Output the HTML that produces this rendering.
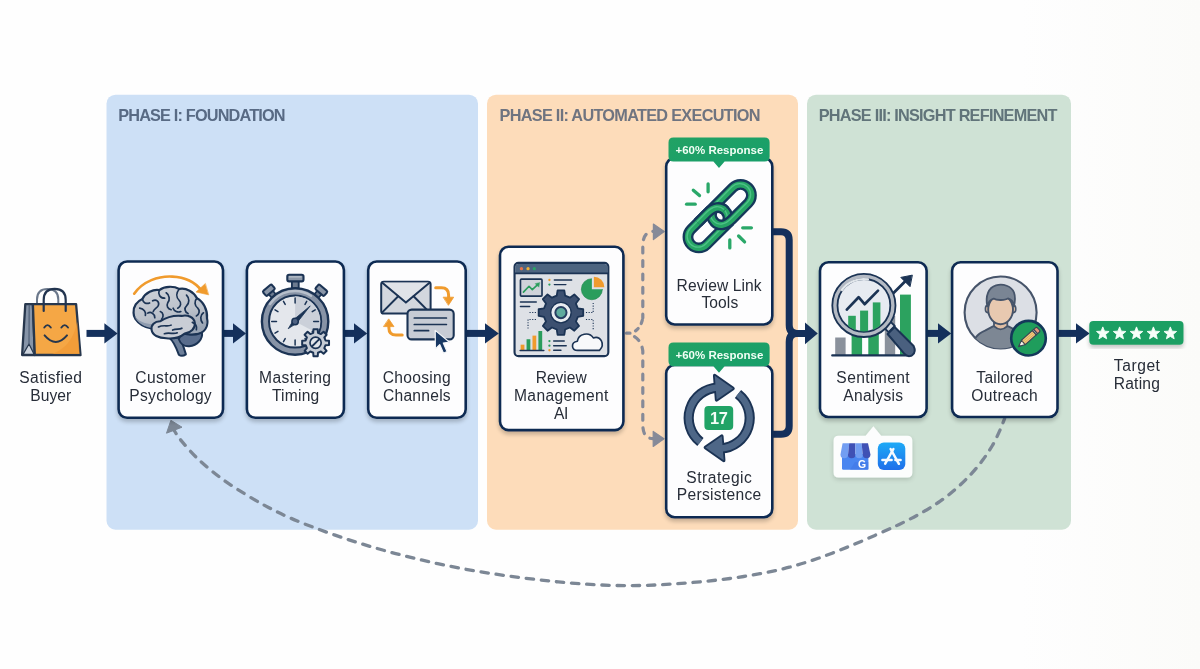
<!DOCTYPE html>
<html>
<head>
<meta charset="utf-8">
<title>Review Strategy Flow</title>
<style>
html,body{margin:0;padding:0;background:#fefefe;}
body{width:1200px;height:669px;overflow:hidden;font-family:"Liberation Sans",sans-serif;}
svg{display:block;position:absolute;left:0;top:0;}
text{font-family:"Liberation Sans",sans-serif;opacity:0.996;}
.lbl{font-size:15.6px;fill:#272d38;text-anchor:middle;}
.ttl{font-size:16.3px;font-weight:bold;}
.bdg{font-size:11.5px;font-weight:bold;fill:#f2fff6;text-anchor:middle;}
</style>
</head>
<body>
<svg width="1200" height="669" viewBox="0 0 1200 669">
<defs>
  <filter id="sh" x="-10%" y="-10%" width="120%" height="125%">
    <feGaussianBlur in="SourceAlpha" stdDeviation="2.2"/>
    <feOffset dx="0" dy="2.5"/>
    <feComponentTransfer><feFuncA type="linear" slope="0.22"/></feComponentTransfer>
    <feMerge><feMergeNode/><feMergeNode in="SourceGraphic"/></feMerge>
  </filter>
  <linearGradient id="bgr" x1="0" x2="1" y1="0" y2="0">
    <stop offset="0" stop-color="#fefefe"/><stop offset="0.85" stop-color="#fefefe"/><stop offset="1" stop-color="#fbfbf9"/>
  </linearGradient>
  <linearGradient id="gbadge" x1="0" x2="1" y1="0" y2="1">
    <stop offset="0" stop-color="#22a264"/><stop offset="1" stop-color="#169e6b"/>
  </linearGradient>
  <linearGradient id="gapp" x1="0" x2="0" y1="0" y2="1"><stop offset="0" stop-color="#1eaaf6"/><stop offset="1" stop-color="#1f6fea"/></linearGradient>
  <filter id="sh2" x="-15%" y="-25%" width="130%" height="160%">
    <feGaussianBlur in="SourceAlpha" stdDeviation="2.4"/><feOffset dx="0" dy="2"/>
    <feComponentTransfer><feFuncA type="linear" slope="0.16"/></feComponentTransfer>
    <feMerge><feMergeNode/><feMergeNode in="SourceGraphic"/></feMerge>
  </filter>
</defs>

<!-- background -->
<rect x="0" y="0" width="1200" height="669" fill="url(#bgr)"/>

<!-- ===== PANELS ===== -->
<rect x="106.5" y="94.7" width="371.5" height="435" rx="9" fill="#cde0f6"/>
<rect x="487" y="94.7" width="311" height="435" rx="9" fill="#fddcba"/>
<rect x="807" y="94.7" width="264" height="435" rx="9" fill="#cfe2d5"/>

<text class="ttl" x="118.2" y="121.3" fill="#586a84" textLength="167.4" lengthAdjust="spacing">PHASE I: FOUNDATION</text>
<text class="ttl" x="499.5" y="121.3" fill="#6f7480" textLength="261" lengthAdjust="spacing">PHASE II: AUTOMATED EXECUTION</text>
<text class="ttl" x="818.7" y="121.3" fill="#61747a" textLength="238.8" lengthAdjust="spacing">PHASE III: INSIGHT REFINEMENT</text>

<!-- ===== LOOP (dashed feedback) ===== -->
<g id="loop"><path d="M1004.6 418.7 C1003.7 420.9 1001.4 427.1 999.3 431.6 C997.3 436.1 995.1 440.8 992.4 445.5 C989.6 450.2 986.5 455.0 982.9 459.8 C979.4 464.6 975.4 469.4 971.0 474.2 C966.6 478.9 961.8 483.7 956.6 488.2 C951.4 492.8 945.9 497.2 939.9 501.4 C933.9 505.6 927.5 509.5 920.7 513.3 C913.9 517.2 906.8 520.7 899.2 524.4 C891.6 528.1 883.5 531.6 874.9 535.4 C866.3 539.2 856.8 543.3 847.4 547.1 C837.9 550.9 827.9 555.0 818.2 558.3 C808.6 561.7 799.1 564.6 789.4 567.2 C779.7 569.8 769.9 571.8 760.0 573.7 C750.1 575.6 740.0 577.1 730.0 578.5 C720.0 579.8 710.0 580.9 700.0 581.8 C690.0 582.8 680.0 583.6 670.0 584.2 C660.0 584.8 650.1 585.3 640.0 585.5 C629.9 585.7 619.7 585.6 609.5 585.3 C599.3 585.0 589.0 584.4 579.0 583.7 C569.0 583.0 559.3 582.1 549.5 581.0 C539.7 580.0 529.9 578.8 520.0 577.5 C510.1 576.2 499.9 574.9 490.0 573.3 C480.1 571.8 470.1 570.1 460.3 568.2 C450.5 566.4 440.9 564.4 431.3 562.2 C421.6 560.1 412.1 557.8 402.5 555.3 C392.9 552.9 383.4 550.3 373.8 547.5 C364.2 544.7 354.6 541.7 345.0 538.5 C335.4 535.4 325.3 531.8 316.3 528.4 C307.2 525.0 298.5 521.6 290.6 518.1 C282.6 514.7 276.1 511.5 268.5 507.5 C260.9 503.5 253.1 499.0 245.0 494.0 C236.9 489.0 227.9 483.4 220.0 477.4 C212.1 471.5 203.8 464.4 197.3 458.3 C190.9 452.2 185.2 445.4 181.2 440.6 C177.2 435.8 174.9 431.4 173.6 429.5" fill="none" stroke="#7c8795" stroke-width="3.3" stroke-linecap="round" stroke-dasharray="7.4 7.8" stroke-dashoffset="3"/>
<path d="M170.9 420.3 L166.5 433.2 L182 427.2Z" fill="#7c8795" stroke="#7c8795" stroke-width="1" stroke-linejoin="round"/></g>

<!-- ===== ARROWS ===== -->
<g id="arrows" fill="#14305c" stroke="none">
  <rect x="86.5" y="329.9" width="19" height="7"/><path d="M104.4 323.2 L117.6 333.4 L104.4 343.6Z"/>
  <rect x="223" y="329.9" width="11" height="7"/><path d="M233 323.2 L246 333.4 L233 343.6Z"/>
  <rect x="344.5" y="329.9" width="10.5" height="7"/><path d="M354 323.2 L367.2 333.4 L354 343.6Z"/>
  <rect x="466" y="329.9" width="20" height="7"/><path d="M485 323.2 L498.8 333.4 L485 343.6Z"/>
  <rect x="926.6" y="329.9" width="12" height="7"/><path d="M938 323.2 L951.2 333.4 L938 343.6Z"/>
  <rect x="1057.6" y="329.9" width="19" height="7"/><path d="M1076 323.2 L1089.6 333.4 L1076 343.6Z"/>
</g>
<!-- bracket merge -->
<g id="bracket" fill="none" stroke="#14305c" stroke-width="7" stroke-linejoin="round">
  <path d="M772 231.7 H781 Q789.2 231.7 789.2 240 V325 Q789.2 333.4 797 333.4 H806"/>
  <path d="M772 434.3 H781 Q789.2 434.3 789.2 426 V342 Q789.2 333.4 797 333.4"/>
</g>
<path d="M805 322.6 L817.8 333.4 L805 344.2Z" fill="#14305c"/>

<!-- ===== DASHED SPLIT ===== -->
<g id="split" fill="none" stroke="#868a98" stroke-width="3.2" stroke-linecap="round" stroke-dasharray="5.8 7.6">
  <path d="M642.8 318 V246 Q642.8 232 653 231.4" stroke-dashoffset="2"/>
  <path d="M626.5 333.2 H630 Q640 331 642.6 319" stroke-dasharray="3.5 6"/>
  <path d="M634.5 336.6 Q641.5 341 642.8 351 V424.5 Q642.8 438.6 653 438.6" stroke-dashoffset="0"/>
</g>
<path d="M653.4 224 L664.2 231.4 L653.4 239.6Z" fill="#868a98" stroke="#868a98" stroke-width="1.2" stroke-linejoin="round"/>
<path d="M653.2 431.4 L664 438.7 L653.2 446.4Z" fill="#868a98" stroke="#868a98" stroke-width="1.2" stroke-linejoin="round"/>

<!-- ===== CARDS ===== -->
<g id="cards" fill="#fdfdfe" stroke="#112c52" stroke-width="2.6" filter="url(#sh)">
  <rect x="118.6" y="261.5" width="104.4" height="156.3" rx="8.5"/>
  <rect x="246.9" y="261.5" width="97" height="156.3" rx="8.5"/>
  <rect x="368.2" y="261.5" width="97.5" height="156.3" rx="8.5"/>
  <rect x="500" y="246.8" width="123.4" height="183.3" rx="8.5"/>
  <rect x="666.2" y="158" width="106.1" height="166.5" rx="8.5"/>
  <rect x="666.2" y="365" width="106.1" height="152.2" rx="8.5"/>
  <rect x="820" y="262.3" width="106.6" height="154.7" rx="8.5"/>
  <rect x="952.1" y="262.3" width="105.4" height="154.7" rx="8.5"/>
</g>

<!-- ===== LABELS ===== -->
<g class="lbl">
  <text x="50.7" y="383.2" textLength="62.7" lengthAdjust="spacing">Satisfied</text>
  <text x="50.8" y="400.7" textLength="40.9" lengthAdjust="spacing">Buyer</text>
  <text x="170.5" y="383.2" textLength="70.3" lengthAdjust="spacing">Customer</text>
  <text x="170.5" y="400.7" textLength="82.3" lengthAdjust="spacing">Psychology</text>
  <text x="295.0" y="383.2" textLength="72.1" lengthAdjust="spacing">Mastering</text>
  <text x="295.6" y="400.7" textLength="47.3" lengthAdjust="spacing">Timing</text>
  <text x="416.7" y="383.2" textLength="67.9" lengthAdjust="spacing">Choosing</text>
  <text x="416.8" y="400.7" textLength="67.7" lengthAdjust="spacing">Channels</text>
  <text x="561.2" y="382.9" textLength="51.1" lengthAdjust="spacing">Review</text>
  <text x="561.2" y="400.6" textLength="94.5" lengthAdjust="spacing">Management</text>
  <text x="561.2" y="418.6" textLength="14.3" lengthAdjust="spacing">AI</text>
  <text x="719.1" y="290.5" textLength="85.1" lengthAdjust="spacing">Review Link</text>
  <text x="719.8" y="308.2" textLength="36.8" lengthAdjust="spacing">Tools</text>
  <text x="719.1" y="482.6" textLength="65.5" lengthAdjust="spacing">Strategic</text>
  <text x="719.0" y="500.4" textLength="84.3" lengthAdjust="spacing">Persistence</text>
  <text x="873.0" y="383.1" textLength="73.3" lengthAdjust="spacing">Sentiment</text>
  <text x="873.2" y="400.7" textLength="59.7" lengthAdjust="spacing">Analysis</text>
  <text x="1004.5" y="383.1" textLength="56.3" lengthAdjust="spacing">Tailored</text>
  <text x="1004.5" y="400.7" textLength="66.3" lengthAdjust="spacing">Outreach</text>
  <text x="1136.9" y="370.8" textLength="46.1" lengthAdjust="spacing">Target</text>
  <text x="1136.8" y="388.8" textLength="46.2" lengthAdjust="spacing">Rating</text>
</g>

<!-- ===== BADGES ===== -->
<g id="badges">
  <path d="M673.5 137.4 H764.6 Q769.6 137.4 769.6 142.4 V156.4 Q769.6 161.4 764.6 161.4 H724.6 L719 167.9 L713.4 161.4 H673.5 Q668.5 161.4 668.5 156.4 V142.4 Q668.5 137.4 673.5 137.4Z" fill="url(#gbadge)"/>
  <text class="bdg" x="719.4" y="153.8">+60% Response</text>
  <path d="M673.5 342.6 H764.6 Q769.6 342.6 769.6 347.6 V361.2 Q769.6 366.2 764.6 366.2 H724.6 L719 372.7 L713.4 366.2 H673.5 Q668.5 366.2 668.5 361.2 V347.6 Q668.5 342.6 673.5 342.6Z" fill="url(#gbadge)"/>
  <text class="bdg" x="719.4" y="358.8">+60% Response</text>
</g>

<!-- ===== STARS ===== -->
<g id="stars">
  <rect x="1089.3" y="320.9" width="94.2" height="23.8" rx="4" fill="#1f9f63" filter="url(#sh)"/>
  <g fill="#f6fff9" stroke="#f6fff9" stroke-width="0.9" stroke-linejoin="round"><path d="M1102.80 326.90 L1104.50 331.15 L1109.08 331.46 L1105.56 334.40 L1106.68 338.84 L1102.80 336.40 L1098.92 338.84 L1100.04 334.40 L1096.52 331.46 L1101.10 331.15Z"/><path d="M1119.60 326.90 L1121.30 331.15 L1125.88 331.46 L1122.36 334.40 L1123.48 338.84 L1119.60 336.40 L1115.72 338.84 L1116.84 334.40 L1113.32 331.46 L1117.90 331.15Z"/><path d="M1136.50 326.90 L1138.20 331.15 L1142.78 331.46 L1139.26 334.40 L1140.38 338.84 L1136.50 336.40 L1132.62 338.84 L1133.74 334.40 L1130.22 331.46 L1134.80 331.15Z"/><path d="M1153.40 326.90 L1155.10 331.15 L1159.68 331.46 L1156.16 334.40 L1157.28 338.84 L1153.40 336.40 L1149.52 338.84 L1150.64 334.40 L1147.12 331.46 L1151.70 331.15Z"/><path d="M1170.30 326.90 L1172.00 331.15 L1176.58 331.46 L1173.06 334.40 L1174.18 338.84 L1170.30 336.40 L1166.42 338.84 L1167.54 334.40 L1164.02 331.46 L1168.60 331.15Z"/></g>
</g>

<!-- ===== POPOVER ===== -->
<g id="popover"><g filter="url(#sh2)"><path d="M838.6 435.7 H865.6 L873.4 426.3 L881.2 435.7 H907.3 Q912.3 435.7 912.3 440.7 V472.5 Q912.3 477.5 907.3 477.5 H838.6 Q833.6 477.5 833.6 472.5 V440.7 Q833.6 435.7 838.6 435.7Z" fill="#fcfdfd"/></g>
<!-- gmb -->
<g>
  <path d="M842 454 H868.4 V468.4 Q868.4 469.8 867 469.8 H843.4 Q842 469.8 842 468.4Z" fill="#4a86f0"/>
  <path d="M855 462 H868.4 V469.8 H850Z" fill="#3f77e6" opacity="0.55"/>
  <path d="M842.6 443.2 H849.2 L848 455 Q847.6 458.2 844.2 458.2 Q840.2 458 840.5 454.2Z" fill="#729ef2"/>
  <path d="M849.2 443.2 H855.4 V455 Q855.2 458.2 851.6 458.2 Q847.8 458 848 455Z" fill="#3f51b5"/>
  <path d="M855.4 443.2 H861.6 L862.8 455 Q862.8 458.2 859.1 458.2 Q855.4 458 855.4 455Z" fill="#729ef2"/>
  <path d="M861.6 443.2 H868 L870.4 454.2 Q870.6 458 866.6 458.2 Q863.2 458.2 862.8 455Z" fill="#3f51b5"/>
  <text x="862" y="467.8" font-size="10.4" font-weight="bold" fill="#ffffff" text-anchor="middle">G</text>
</g>
<!-- appstore -->
<g>
  <rect x="877.8" y="442.6" width="27.5" height="27.4" rx="6" fill="url(#gapp)"/>
  <g fill="none" stroke="#f7fbff" stroke-width="2.5" stroke-linecap="round">
    <path d="M885.2 463.6 L893.4 449"/><path d="M890.6 449 L898.9 463.8"/><path d="M882.4 460.1 H891.6 M895.4 460.1 H900.6"/>
  </g>
</g></g>

<!-- ===== ICONS ===== -->
<g id="icons">
<!-- bag -->
<g id="ic-bag" stroke-linejoin="round" stroke-linecap="round">
  <path d="M37 305 V299.5 Q37 289 47.6 289 Q58.3 289 58.3 299.5 V305" fill="none" stroke="#6b788b" stroke-width="2"/>
  <path d="M25.3 304.2 H32.9 L34.8 355 H22.1Z" fill="#8694a8" stroke="#27374d" stroke-width="2.3"/>
  <path d="M23 354.4 L29 344 L34.2 354.4Z" fill="#cdd4de" stroke="#27374d" stroke-width="1.2"/>
  <path d="M29.2 305 L29 344" fill="none" stroke="#4f5f76" stroke-width="1.2"/>
  <path d="M32.9 304.2 H76.1 L80.5 355 H34.8Z" fill="#f5a745" stroke="#27374d" stroke-width="2.3"/>
  <path d="M77.3 322 L79.6 354 H52 Q72 347 77.3 322Z" fill="#f09a35" stroke="none" opacity="0.75"/>
  <path d="M43.7 311 V300 Q43.7 288.8 54.7 288.8 Q65.7 288.8 65.7 300 V311" fill="none" stroke="#22344f" stroke-width="2.2"/>
  <path d="M44.3 327.6 Q47.5 322.6 50.8 327.6" fill="none" stroke="#27374d" stroke-width="1.9"/>
  <path d="M61.4 327.6 Q64.7 322.6 68 327.6" fill="none" stroke="#27374d" stroke-width="1.9"/>
  <path d="M44.6 335.4 Q55.8 348.6 67 335.4" fill="none" stroke="#27374d" stroke-width="2"/>
</g>
<!-- brain : coordinates in 6.495x zoom space, origin (120,262) -->
<g id="ic-brain" transform="translate(120,262) scale(0.15396)" stroke-linejoin="round" stroke-linecap="round">
  <defs><linearGradient id="gbrain" x1="0.3" y1="0" x2="0.6" y2="1"><stop offset="0" stop-color="#cdd1d8"/><stop offset="0.55" stop-color="#bcc2cb"/><stop offset="1" stop-color="#98a3b3"/></linearGradient></defs>
  <path d="M318 490 C345 510 362 545 382 602 Q402 618 428 600 C416 558 402 520 388 492Z" fill="#6d7f99" stroke="#1b3354" stroke-width="13"/>
  <path d="M395 468 C430 446 500 440 532 458 C540 500 502 542 450 547 C418 550 392 530 382 502Z" fill="#586c8c" stroke="#1b3354" stroke-width="13"/>
  <path d="M88 330 C85 290 110 255 145 240 C165 200 215 175 255 182 C290 155 350 155 385 175 C430 165 480 195 500 235 C540 255 570 310 565 365 C575 410 555 450 520 462 C480 478 430 472 400 458 C330 442 250 442 205 432 C160 425 120 400 100 370 C90 355 88 345 88 330Z" fill="url(#gbrain)" stroke="#1b3354" stroke-width="14.5"/>
  <path d="M94 352 C120 385 165 402 210 404 L207 428 C160 422 122 398 103 368Z" fill="#8e9bae" stroke="none"/>
  <path d="M560 372 C566 410 552 442 520 455 C496 465 470 462 452 455 C500 450 540 420 560 372Z" fill="#9aa5b5" stroke="none"/>
  <path d="M205 440 C200 410 225 385 260 385 C300 360 350 345 400 350 C440 340 482 360 486 395 C490 430 460 460 420 465 C390 490 340 500 300 495 C250 495 210 475 205 440Z" fill="#c9cdd5" stroke="#1b3354" stroke-width="13.5"/>
  <g fill="none" stroke="#1b3354" stroke-width="11">
    <path d="M145 240 C150 265 170 275 192 266"/>
    <path d="M255 182 C245 210 260 235 290 235"/>
    <path d="M212 252 C235 240 256 255 250 280 C245 300 222 300 216 322"/>
    <path d="M300 200 C322 215 326 245 310 265 C300 285 310 305 332 310"/>
    <path d="M385 175 C364 200 364 230 385 250 C400 265 396 290 375 300"/>
    <path d="M432 215 C452 235 452 265 432 285 C416 300 420 325 442 335"/>
    <path d="M500 235 C480 255 485 285 505 300 C520 315 516 340 496 350"/>
    <path d="M128 300 C155 305 170 325 165 347"/>
    <path d="M180 332 C200 320 226 335 226 362"/>
    <path d="M262 322 C282 330 286 356 270 372"/>
    <path d="M542 330 C520 345 520 375 536 396"/>
    <path d="M470 392 C490 400 500 420 496 440"/>
    <path d="M250 422 C280 405 310 422 332 410"/>
    <path d="M342 442 C366 430 386 442 402 430"/>
    <path d="M288 466 C320 455 350 472 372 460"/>
    <path d="M345 300 C352 320 375 330 395 322"/>
  </g>
  <path d="M92 206 C150 124 250 90 340 95 C420 98 490 134 530 186" fill="none" stroke="#f09b2d" stroke-width="17"/>
  <path d="M574 213 L494 195 L553 141Z" fill="#f09b2d" stroke="#f09b2d" stroke-width="4"/>
</g>
<!-- stopwatch -->
<g id="ic-watch" stroke-linejoin="round" stroke-linecap="round">
  <g transform="rotate(-40 295.1 321.5)"><rect x="292.4" y="283.5" width="5.4" height="6" fill="#6d7b90" stroke="#1b3354" stroke-width="1.7"/><rect x="289.3" y="277.6" width="11.6" height="6.2" rx="1.5" fill="#8a96a8" stroke="#1b3354" stroke-width="2"/></g>
  <g transform="rotate(40 295.1 321.5)"><rect x="292.4" y="283.5" width="5.4" height="6" fill="#6d7b90" stroke="#1b3354" stroke-width="1.7"/><rect x="289.3" y="277.6" width="11.6" height="6.2" rx="1.5" fill="#8a96a8" stroke="#1b3354" stroke-width="2"/></g>
  <rect x="291.9" y="281" width="6.8" height="7.5" fill="#6d7b90" stroke="#1b3354" stroke-width="1.9"/>
  <rect x="287.3" y="274.8" width="16.2" height="6.6" rx="1.8" fill="#8c98a9" stroke="#1b3354" stroke-width="2.1"/>
  <path d="M289.5 276.9 H301" stroke="#b9c1cc" stroke-width="1.4" fill="none"/>
  <circle cx="295.1" cy="321.5" r="33.2" fill="#8793a6" stroke="#1b3354" stroke-width="2.4"/>
  <path d="M270 304 A30.2 30.2 0 0 1 311 295.8" fill="none" stroke="#b7bfcb" stroke-width="2.4"/>
  <circle cx="295.1" cy="321.5" r="26.1" fill="#e4e7ec" stroke="#1b3354" stroke-width="2"/>
  <path d="M295.10 321.50 L295.10 296.30 A25.2 25.2 0 0 1 317.35 333.33 Z" fill="#cbd0d9" stroke="none"/>
  <g fill="none" stroke="#1b3354" stroke-width="1.5"><path d="M295.10 302.90 L295.10 298.10"/><path d="M305.00 304.35 L306.70 301.41"/><path d="M312.25 311.60 L315.19 309.90"/><path d="M313.70 321.50 L318.50 321.50"/><path d="M312.25 331.40 L315.19 333.10"/><path d="M305.00 338.65 L306.70 341.59"/><path d="M295.10 340.10 L295.10 344.90"/><path d="M285.20 338.65 L283.50 341.59"/><path d="M277.95 331.40 L275.01 333.10"/><path d="M276.50 321.50 L271.70 321.50"/><path d="M277.95 311.60 L275.01 309.90"/><path d="M285.20 304.35 L283.50 301.41"/></g>
  <path d="M288.4 328.4 L293.6 319.8 L310.2 305.9 L296.8 323 Z" fill="#1b3354" stroke="#1b3354" stroke-width="0.8"/>
  <circle cx="295.1" cy="321.5" r="3.2" fill="#4f6282" stroke="#1b3354" stroke-width="1.5"/>
  <path d="M313.22 332.88 L313.47 329.37 L317.73 329.37 L317.98 332.88 L320.93 334.10 L323.59 331.80 L326.60 334.81 L324.30 337.47 L325.52 340.42 L329.03 340.67 L329.03 344.93 L325.52 345.18 L324.30 348.13 L326.60 350.79 L323.59 353.80 L320.93 351.50 L317.98 352.72 L317.73 356.23 L313.47 356.23 L313.22 352.72 L310.27 351.50 L307.61 353.80 L304.60 350.79 L306.90 348.13 L305.68 345.18 L302.17 344.93 L302.17 340.67 L305.68 340.42 L306.90 337.47 L304.60 334.81 L307.61 331.80 L310.27 334.10Z" fill="#c6ccd5" stroke="#1b3354" stroke-width="2"/>
  <circle cx="315.6" cy="342.8" r="5.6" fill="#e1e4e9" stroke="#1b3354" stroke-width="1.7"/>
  <path d="M312.4 346 L318.8 339.6" stroke="#1b3354" stroke-width="1.8" fill="none"/>
</g>
<!-- channels -->
<g id="ic-chan" stroke-linejoin="round" stroke-linecap="round">
  <rect x="381.2" y="281.7" width="49.4" height="31.8" rx="2.6" fill="#d3d7de" stroke="#1b3354" stroke-width="2"/>
  <path d="M382 282.6 L405.9 302.6 L429.8 282.6Z" fill="#e0e3e8" stroke="none"/>
  <path d="M382 282.6 L405.9 302.6 L429.8 282.6" fill="none" stroke="#1b3354" stroke-width="2"/>
  <path d="M382 312.6 L398.2 296.2 M429.8 312.6 L413.6 296.2" fill="none" stroke="#1b3354" stroke-width="2"/>
  <rect x="407.5" y="309.6" width="46.2" height="29.8" rx="4.2" fill="#c7ccd5" stroke="#1b3354" stroke-width="2.1"/>
  <path d="M414.3 318 H446.4 M414.3 324.5 H446.4 M414.3 330.7 H428.6" fill="none" stroke="#1b3354" stroke-width="1.7"/>
  <path d="M435.2 330.4 L435.4 348.9 L439.7 344.6 L443.5 353.2 L447 351.5 L443.3 343 L449.6 342.2Z" fill="#183863" stroke="#f4f6f9" stroke-width="1.2"/>
  <path d="M435.7 287.8 H441.5 Q448.6 287.8 448.6 295 V298" fill="none" stroke="#f09b2d" stroke-width="3"/>
  <path d="M443.5 297.2 H453.7 L448.6 305Z" fill="#f09b2d" stroke="#f09b2d" stroke-width="0.8"/>
  <path d="M402.2 335 H396 Q388.9 335 388.9 328 V326" fill="none" stroke="#f09b2d" stroke-width="3"/>
  <path d="M383.8 326.6 H394 L388.9 319.2Z" fill="#f09b2d" stroke="#f09b2d" stroke-width="0.8"/>
</g>
<!-- dashboard : zoom space 6.078x origin (505,255) -->
<g id="ic-dash" transform="translate(505,255) scale(0.16453)" stroke-linejoin="round" stroke-linecap="round">
  <rect x="58" y="48" width="570" height="567" rx="24" fill="#dee1e6" stroke="#1b3354" stroke-width="13"/>
  <path d="M64 112 V72 Q64 54 82 54 H604 Q622 54 622 72 V112Z" fill="#4d6480" stroke="none"/>
  <path d="M60 112 H626" stroke="#1b3354" stroke-width="10" fill="none"/>
  <circle cx="100" cy="83" r="10" fill="#e8744c"/><circle cx="140" cy="83" r="10" fill="#f2b236"/><circle cx="178" cy="83" r="10" fill="#2aa567"/>
  <rect x="94" y="147" width="131" height="103" rx="6" fill="#cfd3da" stroke="#1b3354" stroke-width="10"/>
  <path d="M112 226 L146 190 L166 210 L200 178" fill="none" stroke="#2a9d5c" stroke-width="10"/>
  <path d="M210 168 L184 174 L204 194Z" fill="#2a9d5c" stroke="#2a9d5c" stroke-width="3"/>
  <circle cx="270" cy="152" r="7" fill="#f09b2d"/><circle cx="270" cy="180" r="7" fill="#2a9d5c"/>
  <path d="M300 152 H405 M300 180 H370 M94 286 H190 M94 313 H150" stroke="#1b3354" stroke-width="9" fill="none"/>
  <circle cx="528" cy="208" r="64" fill="#2a9d5c" stroke="#238a50" stroke-width="4"/>
  <path d="M528 208 V136 A72 72 0 0 1 600 208Z" fill="#dee1e6" stroke="none"/>
  <path d="M540 196 V132 A64 64 0 0 1 604 196Z" fill="#f09b2d" stroke="none"/>
  <g fill="none" stroke="#1b3354" stroke-width="6.5" stroke-dasharray="7 9" stroke-linecap="butt">
    <path d="M188 350 H148"/><path d="M188 392 H140 V452"/>
    <path d="M492 350 H536 V292"/><path d="M492 392 H536 V452"/>
  </g>
  <path d="M314.45 247.13 L319.63 214.52 L360.37 214.52 L365.55 247.13 L394.67 259.19 L421.39 239.80 L450.20 268.61 L430.81 295.33 L442.87 324.45 L475.48 329.63 L475.48 370.37 L442.87 375.55 L430.81 404.67 L450.20 431.39 L421.39 460.20 L394.67 440.81 L365.55 452.87 L360.37 485.48 L319.63 485.48 L314.45 452.87 L285.33 440.81 L258.61 460.20 L229.80 431.39 L249.19 404.67 L237.13 375.55 L204.52 370.37 L204.52 329.63 L237.13 324.45 L249.19 295.33 L229.80 268.61 L258.61 239.80 L285.33 259.19Z" fill="#3c5070" stroke="#1b3354" stroke-width="11"/>
  <circle cx="340" cy="350" r="62" fill="#e9ecf0" stroke="#1b3354" stroke-width="8"/>
  <circle cx="340" cy="350" r="34" fill="#5faa9d" stroke="#273f62" stroke-width="12"/>
  <rect x="95" y="545" width="23" height="33" fill="#f09b2d"/><rect x="131" y="512" width="23" height="66" fill="#2a9d5c"/>
  <rect x="167" y="490" width="23" height="88" fill="#f09b2d"/><rect x="203" y="462" width="23" height="116" fill="#2a9d5c"/>
  <path d="M92 580 H236" stroke="#1b3354" stroke-width="9" fill="none"/>
  <circle cx="270" cy="523" r="7" fill="#2a9d5c"/><circle cx="270" cy="551" r="7" fill="#2a9d5c"/><circle cx="270" cy="579" r="7" fill="#f09b2d"/>
  <path d="M296 523 H360 M296 551 H372 M296 579 H340" stroke="#1b3354" stroke-width="9" fill="none"/>
  <path d="M442 580 C402 580 398 530 440 524 C446 478 512 464 537 504 C580 490 612 542 574 580Z" fill="#f8f9fb" stroke="#1b3354" stroke-width="10"/>
</g>
<!-- chain -->
<g id="ic-chain">
  <g fill="none" stroke="#2aa869" stroke-width="3.3" stroke-linecap="round">
    <path d="M708.1 183.9 V191.8"/><path d="M693.3 190.2 L699.5 195.6"/><path d="M686.6 204.2 H695.2"/>
    <path d="M742.7 227.8 H751.4"/><path d="M738.6 236 L744.6 241.9"/><path d="M729.8 239.9 V247.9"/>
  </g>
  <g transform="translate(719.7,216.2) rotate(-45)" fill="none" stroke-linecap="butt" stroke-linejoin="round">
    <path d="M4 10.9 H-29.5 A10.9 10.9 0 0 1 -29.5 -10.9 H-6.5 C2.5 -10.9 7.8 -7 7.8 -0.5 C7.8 4 5.5 7 2.2 9" stroke="#15385a" stroke-width="10.8"/><path d="M4 10.9 H-29.5 A10.9 10.9 0 0 1 -29.5 -10.9 H-6.5 C2.5 -10.9 7.8 -7 7.8 -0.5 C7.8 4 5.5 7 2.2 9" stroke="#27a564" stroke-width="6.1"/><path d="M4 10.9 H-29.5 A10.9 10.9 0 0 1 -29.5 -10.9 H-6.5 C2.5 -10.9 7.8 -7 7.8 -0.5 C7.8 4 5.5 7 2.2 9" stroke="#4dc287" stroke-width="1.4" transform="translate(0,-1.2)"/>
    <g transform="rotate(180)"><path d="M4 10.9 H-29.5 A10.9 10.9 0 0 1 -29.5 -10.9 H-6.5 C2.5 -10.9 7.8 -7 7.8 -0.5 C7.8 4 5.5 7 2.2 9" stroke="#15385a" stroke-width="10.8"/><path d="M4 10.9 H-29.5 A10.9 10.9 0 0 1 -29.5 -10.9 H-6.5 C2.5 -10.9 7.8 -7 7.8 -0.5 C7.8 4 5.5 7 2.2 9" stroke="#27a564" stroke-width="6.1"/><path d="M4 10.9 H-29.5 A10.9 10.9 0 0 1 -29.5 -10.9 H-6.5 C2.5 -10.9 7.8 -7 7.8 -0.5 C7.8 4 5.5 7 2.2 9" stroke="#4dc287" stroke-width="1.4" transform="translate(0,1.2)"/></g>
    <path d="M-20 -10.9 H-6.5 C2.5 -10.9 7.8 -7 7.8 -0.5" stroke="#15385a" stroke-width="10.8"/><path d="M-20 -10.9 H-6.5 C2.5 -10.9 7.8 -7 7.8 -0.5" stroke="#27a564" stroke-width="6.1"/><path d="M-20 -10.9 H-6.5 C2.5 -10.9 7.8 -7 7.8 -0.5" stroke="#4dc287" stroke-width="1.4" transform="translate(0,-1.2)"/>
  </g>
</g>
<!-- cycle -->
<g id="ic-cycle" stroke-linejoin="round">
  <g fill="none" stroke="#1b3354" stroke-width="10.2"><path d="M700.42 442.03 A30.5 30.5 0 0 1 717.60 387.54"/><path d="M737.98 393.97 A30.5 30.5 0 0 1 720.80 448.46"/></g>
  <g fill="#1b3354" stroke="#1b3354" stroke-width="3.6"><path d="M714.75 375.63 L732.94 388.54 L716.64 399.78 Z"/><path d="M723.65 460.37 L705.46 447.46 L721.76 436.22 Z"/></g>
  <g fill="none" stroke="#4e6787" stroke-width="6.4"><path d="M700.42 442.03 A30.5 30.5 0 0 1 717.60 387.54"/><path d="M737.98 393.97 A30.5 30.5 0 0 1 720.80 448.46"/></g>
  <g fill="#4e6787" stroke="none"><path d="M714.75 375.63 L732.94 388.54 L716.64 399.78 Z"/><path d="M723.65 460.37 L705.46 447.46 L721.76 436.22 Z"/></g>
  <rect x="704.4" y="405.9" width="28.8" height="24.2" rx="4" fill="#21a366"/>
  <text x="718.7" y="423.9" font-size="16.4" font-weight="bold" fill="#f4fff8" text-anchor="middle" letter-spacing="-0.3">17</text>
</g>
<!-- sentiment -->
<g id="ic-sent" stroke-linejoin="round" stroke-linecap="round">
  <defs><clipPath id="lensclip"><circle cx="863.9" cy="305.4" r="26"/></clipPath></defs>
  <rect x="835.2" y="337.5" width="10.4" height="18" fill="#8a919c"/>
  <rect x="851.6" y="320" width="10.5" height="35.4" fill="#2ca25f"/>
  <rect x="868.3" y="310" width="10.5" height="45.4" fill="#2ca25f"/>
  <rect x="884.8" y="316" width="10.4" height="39.4" fill="#8a919c"/>
  <rect x="900" y="294.6" width="10.9" height="60.8" fill="#2ca25f"/>
  <path d="M832.2 355.4 H911.6" fill="none" stroke="#1b3354" stroke-width="2.1"/>
  <path d="M890.5 296 L909 277.4" fill="none" stroke="#1b3354" stroke-width="2.8"/>
  <path d="M912 275.2 L900.8 277.4 L909.8 286.4Z" fill="#1b3354" stroke="#1b3354" stroke-width="1"/>
  <!-- handle -->
  <path d="M884.2 327.8 L890.4 321.6 L894.8 326 L888.6 332.2Z" fill="#d4d9e0" stroke="#1b3354" stroke-width="1.8"/>
  <path d="M887.6 334 L894.6 327 L913.6 346 Q916.4 352 912.4 355 Q908 358 904 353.4Z" fill="#4a607f" stroke="#1b3354" stroke-width="2"/>
  <!-- lens -->
  <circle cx="863.9" cy="305.4" r="29" fill="#e7ebf1" stroke="#1b3354" stroke-width="7"/>
  <circle cx="863.9" cy="305.4" r="29" fill="none" stroke="#b4bac4" stroke-width="3.4"/>
  <path d="M842 290 A26.5 26.5 0 0 1 868 279.4" fill="none" stroke="#f7f9fb" stroke-width="2.2" opacity="0.9"/>
  <g clip-path="url(#lensclip)">
    <rect x="848.2" y="315.8" width="7.6" height="30" fill="#2ca25f"/>
    <rect x="860.1" y="310.6" width="8" height="30" fill="#2ca25f"/>
    <rect x="872.8" y="302.4" width="7.6" height="40" fill="#2ca25f"/>
    <path d="M846.8 309.6 L858.6 297.2 L864.6 304.2 L878 290.6" fill="none" stroke="#1b3354" stroke-width="2.7"/>
  </g>
</g>
<!-- person -->
<g id="ic-person" stroke-linejoin="round" stroke-linecap="round">
  <defs><clipPath id="avclip"><circle cx="1000.6" cy="312.5" r="35.9"/></clipPath></defs>
  <circle cx="1000.6" cy="312.5" r="36" fill="#dcdfe5" stroke="#46546a" stroke-width="2.1"/>
  <g clip-path="url(#avclip)">
    <path d="M972 352 C972.5 338 978 333.5 985 330.6 L993 326.4 H1008.4 L1016.4 330.6 C1023 333.5 1029 338 1029.4 352Z" fill="#7d8794" stroke="#46546a" stroke-width="1.9"/>
    <path d="M994 319 V326.2 Q1000.6 332.6 1007.3 326.2 V319Z" fill="#e0bea4" stroke="#46546a" stroke-width="1.8"/>
  </g>
  <ellipse cx="987.7" cy="309" rx="2.3" ry="3.6" fill="#e4c4ab" stroke="#46546a" stroke-width="1.6"/>
  <ellipse cx="1013.5" cy="309" rx="2.3" ry="3.6" fill="#e4c4ab" stroke="#46546a" stroke-width="1.6"/>
  <ellipse cx="1000.6" cy="309.6" rx="12.4" ry="14.6" fill="#e8c9b0" stroke="#46546a" stroke-width="1.9"/>
  <path d="M987.4 306.4 C985 296 988.5 287.5 996 285.4 C1003 283.4 1011.5 286 1014 292.5 C1015.6 297 1015 302 1013.8 306.4 C1013.6 302.6 1011.6 299.4 1008 298.4 C1005.5 300.4 996.5 300.6 993.6 298.6 C990 299.6 988 302.6 987.4 306.4Z" fill="#7a8594" stroke="#46546a" stroke-width="1.8"/>
  <circle cx="1028.5" cy="338.2" r="17.3" fill="#1f9d5c" stroke="#14385a" stroke-width="2.6"/>
  <g transform="translate(1018.6,346.6) rotate(-41.4)" stroke="#3a4654" stroke-width="1.1">
    <path d="M0 0 L6.4 -2.9 V2.9Z" fill="#f7f2ea"/>
    <path d="M0 0 L2.2 -1 V1Z" fill="#3a4654" stroke="none"/>
    <rect x="6.4" y="-2.9" width="14.6" height="5.8" fill="#f2c87f"/>
    <path d="M6.4 -0.9 H21 M6.4 1 H21" fill="none" stroke="#d9a85a" stroke-width="0.8"/>
    <rect x="21" y="-2.9" width="1.8" height="5.8" fill="#c9ccd2"/>
    <path d="M22.8 -2.9 H25 Q26.6 -2.9 26.6 -1.3 V1.3 Q26.6 2.9 25 2.9 H22.8Z" fill="#e8967a"/>
  </g>
</g>

</g>

</svg>
</body>
</html>
